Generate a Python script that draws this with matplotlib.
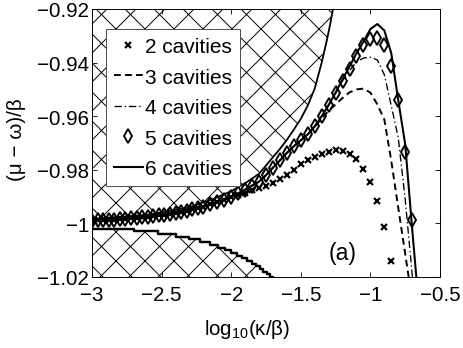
import matplotlib
matplotlib.use('Agg')
import matplotlib.pyplot as plt
import numpy as np

plt.rcParams['font.family'] = ['Liberation Sans', 'DejaVu Sans']
plt.rcParams['mathtext.fontset'] = 'custom'
plt.rcParams['mathtext.rm'] = 'Liberation Sans'
plt.rcParams['mathtext.default'] = 'regular'
plt.rcParams['hatch.linewidth'] = 0.8

# common low-kappa branch (all curves lie on top of each other here)
x_band = [-3.00, -2.96, -2.92, -2.88, -2.84, -2.80, -2.76, -2.72, -2.68, -2.64,
          -2.60, -2.56, -2.52, -2.48, -2.44, -2.40, -2.36, -2.32, -2.28, -2.24, -2.20,
          -2.15, -2.10, -2.05, -2.00, -1.95, -1.90, -1.85, -1.80, -1.75, -1.70,
          -1.65, -1.60, -1.55, -1.50]
y_band = [-0.9990, -0.9989, -0.9988, -0.9987, -0.9986, -0.9984, -0.9983, -0.9981, -0.9979, -0.9977,
          -0.9975, -0.9972, -0.9970, -0.9967, -0.9964, -0.9960, -0.9956, -0.9952, -0.9948, -0.9942, -0.9937,
          -0.9929, -0.9921, -0.9911, -0.9900, -0.9888, -0.9874, -0.9859, -0.9844, -0.9820, -0.9792,
          -0.9765, -0.9737, -0.9712, -0.9690]

# 2 cavities leaves the band early
x_tail2 = [-1.95, -1.90, -1.85, -1.80, -1.75, -1.70, -1.65, -1.60, -1.55, -1.50, -1.45, -1.40,
           -1.35, -1.30, -1.25, -1.20, -1.15, -1.10, -1.05, -1.00, -0.95, -0.90, -0.85]
y_tail2 = [-0.9893, -0.9885, -0.9877, -0.9868, -0.9859, -0.9849, -0.9836, -0.9820, -0.9800, -0.9780,
           -0.9765, -0.9752, -0.9740, -0.9732, -0.9727, -0.9730, -0.9741, -0.9760, -0.9797, -0.9847,
           -0.9918, -1.0015, -1.0139]

# 3..6 cavities after the band
x_tail = [-1.45, -1.40, -1.35, -1.30, -1.25, -1.20, -1.15, -1.10, -1.05, -1.00,
          -0.95, -0.90, -0.85, -0.80, -0.75, -0.70, -0.65]
y_tail3 = [-0.9668, -0.9640, -0.9608, -0.9580, -0.9556, -0.9532, -0.9511, -0.9500, -0.9497, -0.9512,
           -0.9556, -0.9612, -0.9767, -0.9941, -1.0114, -1.0286, np.nan]
y_tail4 = [-0.9668, -0.9638, -0.9600, -0.9560, -0.9515, -0.9468, -0.9430, -0.9398, -0.9383, -0.9380,
           -0.9390, -0.9445, -0.9561, -0.9680, -0.9910, -1.0190, -1.0470]
y_tail5 = [-0.9668, -0.9638, -0.9600, -0.9560, -0.9515, -0.9468, -0.9424, -0.9374, -0.9334, -0.9312,
           -0.9310, -0.9334, -0.9412, -0.9538, -0.9732, -0.9986, np.nan]
y_tail6 = [-0.9668, -0.9638, -0.9600, -0.9558, -0.9512, -0.9462, -0.9415, -0.9365, -0.9322, -0.9275,
           -0.9256, -0.9280, -0.9365, -0.9540, -0.9705, -1.0020, -1.0320]

# forbidden regions (hatched)
x_upper = [-3.00, -2.60, -2.30, -2.13, -2.00, -1.90, -1.80, -1.70, -1.65, -1.60, -1.55, -1.50,
           -1.45, -1.40, -1.35, -1.316, -1.29, -1.269, -1.25]
y_upper = [-0.9983, -0.9968, -0.9940, -0.9909, -0.9880, -0.9850, -0.9815, -0.9753, -0.9722, -0.9688,
           -0.9650, -0.9610, -0.9560, -0.9497, -0.9400, -0.9324, -0.9260, -0.9200, -0.9150]
x_lower = [-3.000, -2.699, -2.523, -2.398, -2.301, -2.222, -2.155, -2.097, -2.046, -2.000,
           -1.959, -1.921, -1.886, -1.854, -1.824, -1.796, -1.770, -1.745, -1.721, -1.699, -1.680]
y_lower = [-1.002, -1.003, -1.004, -1.005, -1.006, -1.007, -1.008, -1.009, -1.010, -1.011,
           -1.012, -1.013, -1.014, -1.015, -1.016, -1.017, -1.018, -1.019, -1.020, -1.021, -1.021]

DPI = 87
FS = 17
fig = plt.figure(figsize=(463 / DPI, 349 / DPI), dpi=DPI)
ax = fig.add_axes([92 / 463, 1 - 278 / 349, 348 / 463, 268 / 349])

ax.fill_between(x_upper, y_upper, -0.90, facecolor='white', edgecolor='k', hatch='x', linewidth=0)
ax.plot(x_upper, y_upper, color='k', lw=1.5)
ax.fill_between(x_lower, y_lower, -1.04, step='post', facecolor='white', edgecolor='k',
                hatch='x', linewidth=0)
ax.plot(x_lower, y_lower, color='k', lw=2.0, drawstyle='steps-post')

x2 = x_band[:25] + x_tail2
y2 = y_band[:25] + y_tail2
xr = x_band + x_tail
ax.plot(x2, y2, 'x', color='k', ms=4.5, mew=1.8, label='2 cavities')
ax.plot(xr, y_band + y_tail3, color='k', lw=1.6, ls=(0, (3.5, 2.2)), label='3 cavities')
ax.plot(xr, y_band + y_tail4, color='k', lw=1.1, ls=(0, (5.5, 2.2, 1, 2.2)), label='4 cavities')
ax.plot(xr, y_band + y_tail5, 'd', color='k', mfc='none', ms=8, mew=1.6, label='5 cavities')
ax.plot(xr, y_band + y_tail6, color='k', lw=1.7, label='6 cavities')

ax.set_xlim(-3, -0.5)
ax.set_ylim(-1.02, -0.92)
ax.set_xticks([-3, -2.5, -2, -1.5, -1, -0.5])
ax.set_xticklabels(['\u22123', '\u22122.5', '\u22122', '\u22121.5', '\u22121', '\u22120.5'])
ax.set_yticks([-1.02, -1.0, -0.98, -0.96, -0.94, -0.92])
ax.set_yticklabels(['\u22121.02', '\u22121', '\u22120.98', '\u22120.96', '\u22120.94', '\u22120.92'])
ax.tick_params(direction='in', top=True, right=True, length=4, width=0.7, labelsize=FS)
ax.tick_params(axis='x', pad=6.5)
ax.tick_params(axis='y', pad=2.5)
for s in ax.spines.values():
    s.set_linewidth(0.8)

ax.set_xlabel('log$_{10}$(\u03ba/\u03b2)', fontsize=FS)
ax.xaxis.set_label_coords(0.445, -0.194)
ax.xaxis.label.set_va('center')
ax.set_ylabel('(\u03bc \u2212 \u03c9)/\u03b2', fontsize=FS)
ax.yaxis.set_label_coords(-0.216, 0.515)
ax.yaxis.label.set_va('center')

ax.text(0.721, 0.09, '(a)', transform=ax.transAxes, fontsize=19, ha='center', va='center')

leg = ax.legend(loc='upper left', bbox_to_anchor=(0.04, 0.925), borderaxespad=0, fontsize=17.3,
                fancybox=False, framealpha=1, edgecolor='0.3', handlelength=1.4,
                handletextpad=0.1, labelspacing=0.55, borderpad=0.38)
leg.get_frame().set_linewidth(0.8)

fig.savefig('out.png', dpi=DPI)
plt.close(fig)
